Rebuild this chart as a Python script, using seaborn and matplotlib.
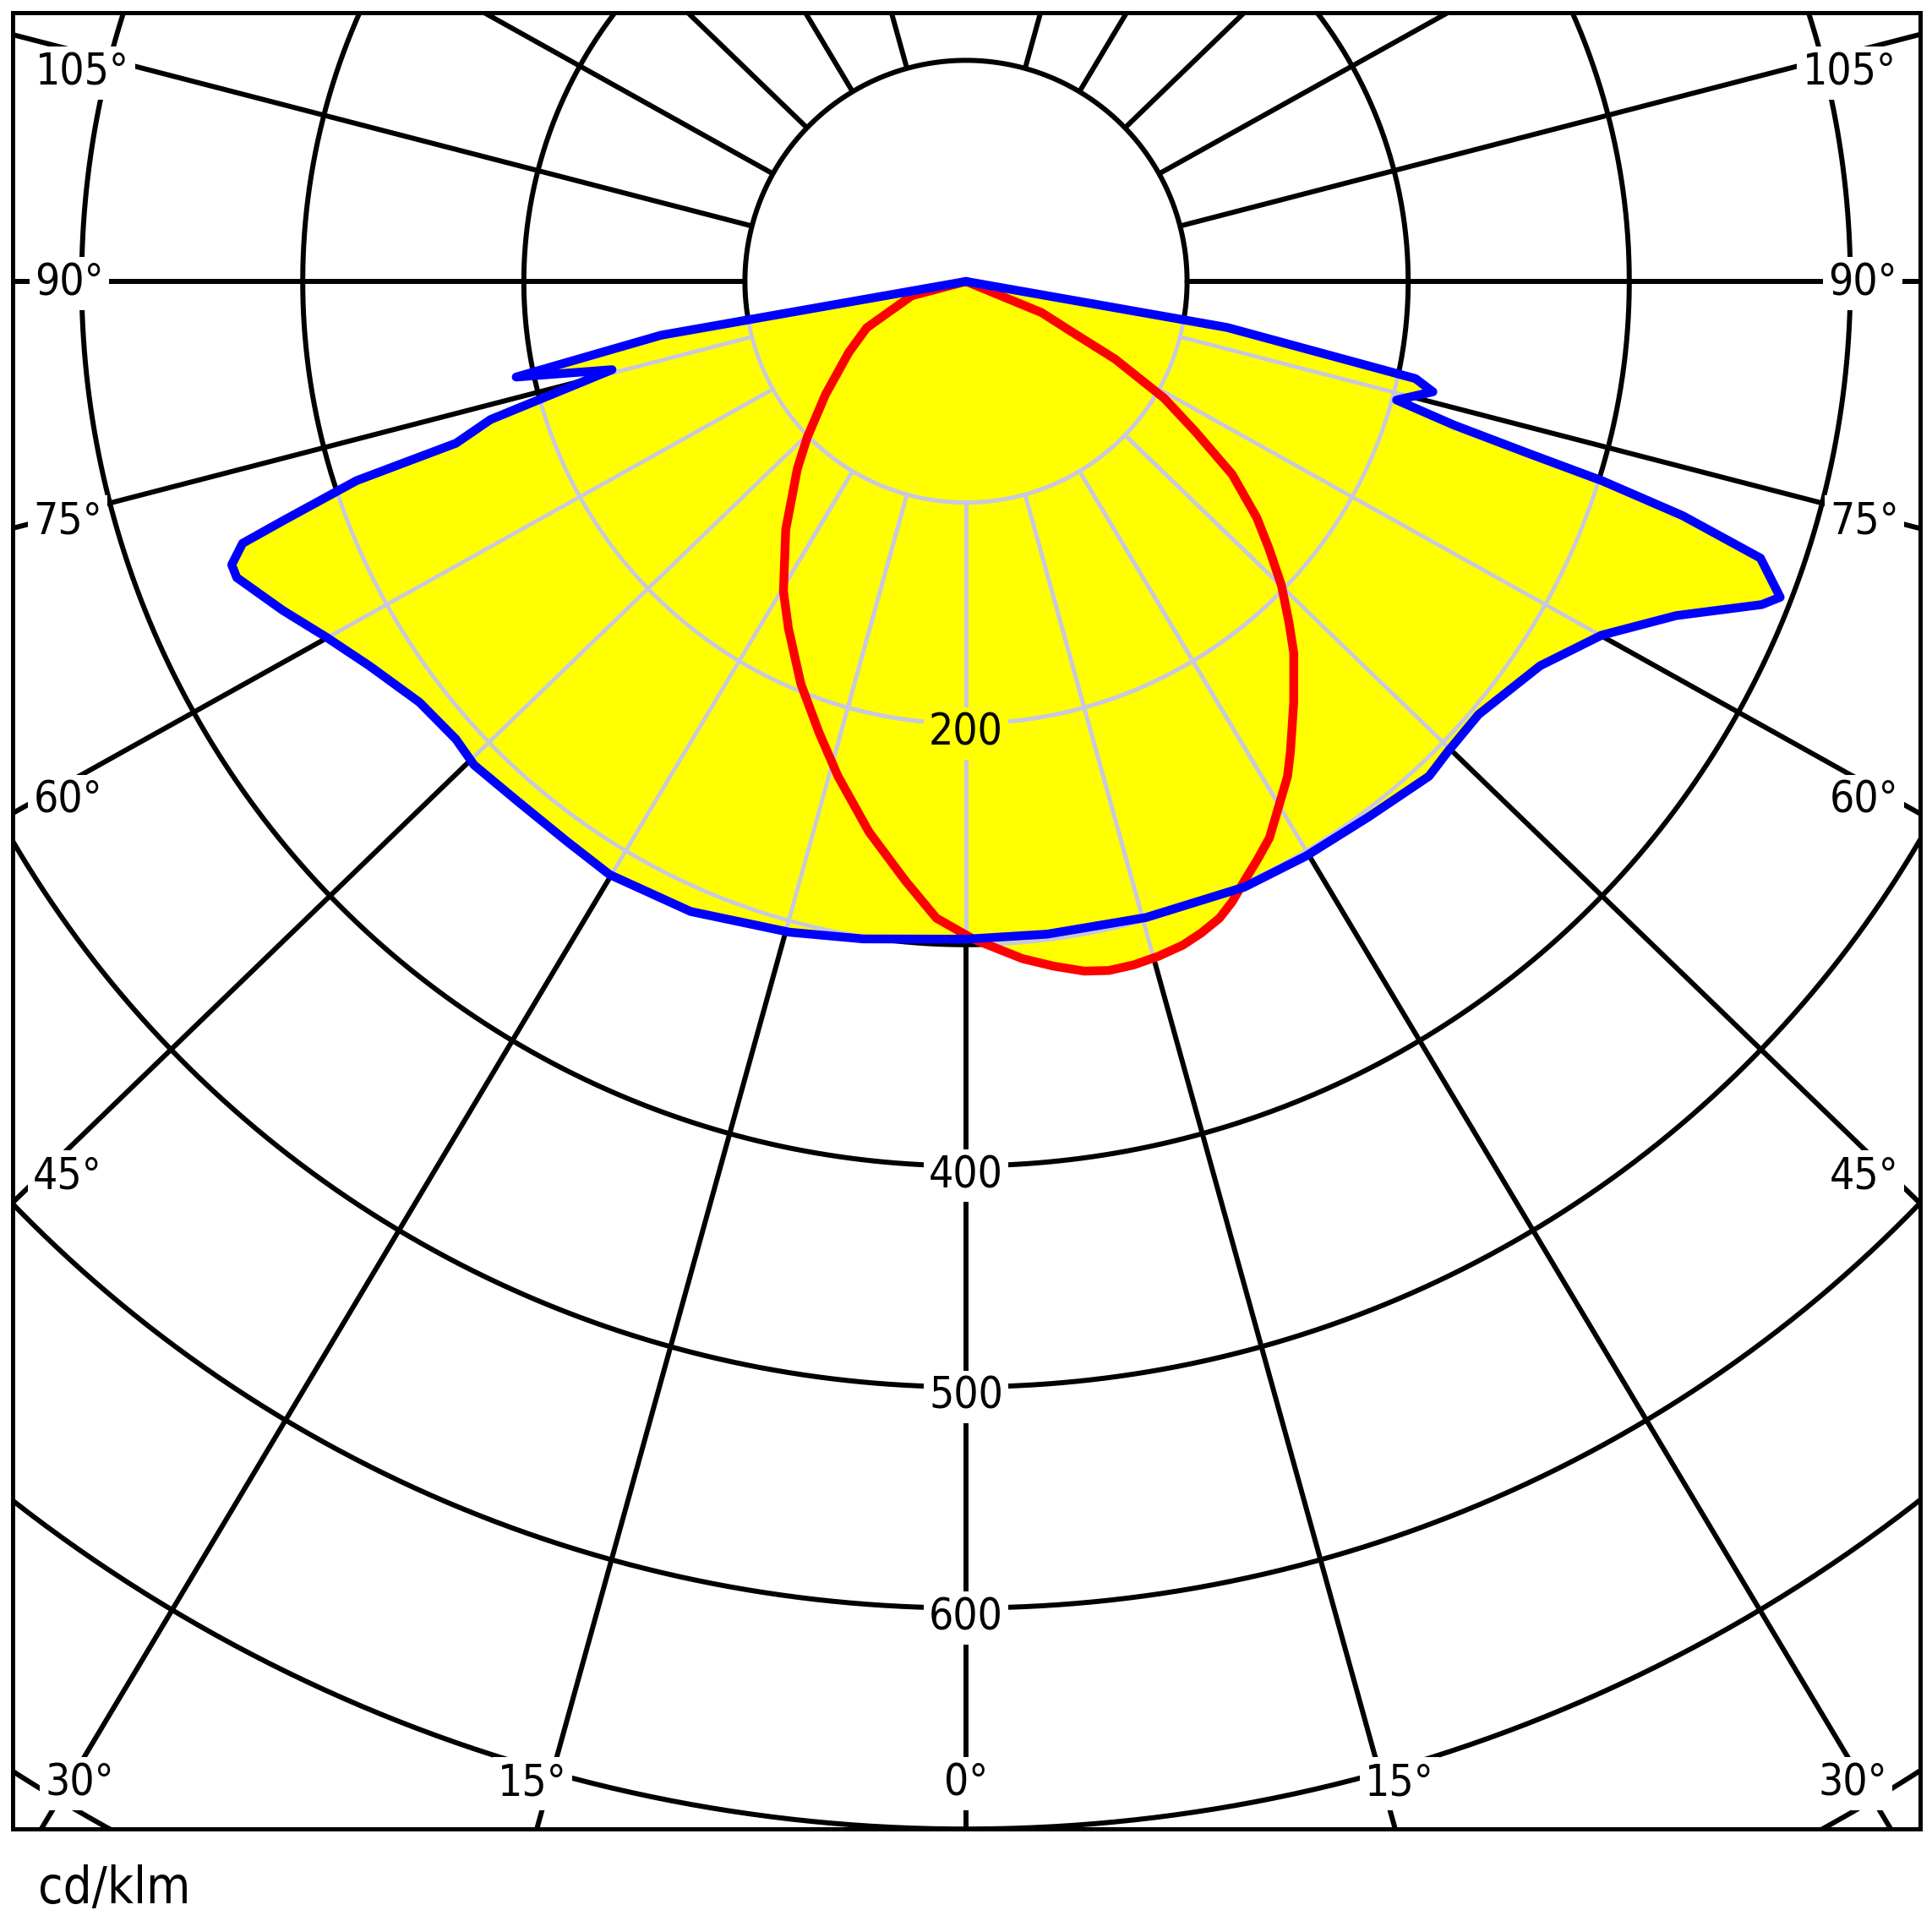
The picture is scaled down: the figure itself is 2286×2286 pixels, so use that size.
import numpy as np
import pandas as pd
import matplotlib
matplotlib.use("Agg")
import matplotlib.pyplot as plt
import seaborn as sns
from matplotlib.path import Path

# ---------------- data (gamma in degrees, 0 = nadir, negative = left half) ----------------
blue_gamma = [-90, -80, -78, -76, -73.8, -72.4, -71.9, -70.7, -70.1, -68.9, -67.9, -64.3,
              -60.9, -57.2, -52.4, -48.1, -45.5, -40.8, -35.5, -31.0, -23.6, -15.2, -8.9, 0,
              7.1, 15.8, 24.7, 30.6, 36.9, 43.1, 45.7, 49.8, 56.2, 60.9, 64.8, 67.9, 68.8,
              70.8, 71.9, 72.6, 73.0, 73.6, 74.6, 76.7, 77.8, 80, 90]
blue_cd = [0, 140, 208, 165, 224, 242, 290, 327, 348, 356, 356, 343,
           331, 321, 312, 310, 312, 310.5, 311, 313, 311, 305, 301, 297.5,
           297.5, 299, 301.5, 302, 303, 306.5, 304.5, 303.5, 312.5, 329, 355, 388.5, 395,
           380.5, 341, 301.5, 266, 230, 202, 217, 208, 120, 0]

red_gamma = [-90, -75.2, -65, -58.8, -51.2, -45.5, -42, -36, -30.5, -27.1, -22.3,
             -18.0, -14.5, -10.0, -5.75, -2.66, 0.64, 4.78, 7.28, 9.73, 11.72, 13.78, 15.9,
             18.1, 19.86, 21.7, 23.2, 24.9, 26.7, 28.6, 33.0, 34.6, 37.9, 41.4, 43.45, 46.07,
             48.6, 50.9, 54.06, 56.8, 59.5, 62.5, 64.5, 67.6, 90]
red_cd = [0, 25.4, 49.5, 62, 81.5, 100.7, 114, 138.7, 162.7, 176.3, 196.8,
          214.8, 231.2, 252.8, 272.6, 288.3, 297.5, 307.4, 312.2, 316.5, 318.3, 318.3, 317.4,
          315.8, 313.3, 310, 305.4, 299, 293, 286.7, 267, 258.4, 241.3, 224.2, 212.4, 198.1,
          182.7, 169.5, 148.7, 123.9, 104, 76, 53, 37, 0]

ring_values = [100, 200, 300, 400, 500, 600, 700, 800]
ring_label_values = [200, 400, 500, 600]
spoke_angles = list(range(-165, 166, 15))
angle_label_values = [105, 90, 75, 60, 45, 30, 15, 0]
unit_label = "cd/klm"

# ---------------- layout ----------------
W = 2286
PX = 2.616                     # pixels per cd/klm
CX, CY = 1143, 333             # pole position (pixels)
FL, FT, FR, FB = 15, 15, 2272, 2164   # frame
SPOKE_K = 1.035                # horizontal spread of the spokes in the original drawing
label_pos = {105: (-399.5, 95.2), 90: (-405.6, 0.0), 75: (-406.3, -107.8),
             60: (-406.3, -234.0), 45: (-406.3, -404.0), 30: (-401.0, -678.5),
             15: (-196.1, -678.5), 0: (0.0, -678.5)}
FS = 37
BLACK_LW = 4.3
GRAY = "#c8c8de"
GRAY_LW = 3.4
CURVE_LW = 7.5

sns.set_theme(style="white")
plt.rcParams["font.family"] = ["DejaVu Sans"]
plt.rcParams["font.stretch"] = "condensed"
plt.rcParams["text.color"] = "black"

fig = plt.figure(figsize=(22.86, 22.86), dpi=100)
fig.patch.set_facecolor("white")
ax = fig.add_axes([FL / W, 1 - FB / W, (FR - FL) / W, (FB - FT) / W])
ax.set_xlim((FL - CX) / PX, (FR - CX) / PX)
ax.set_ylim((CY - FB) / PX, (CY - FT) / PX)
ax.set_xticks([])
ax.set_yticks([])
ax.set_facecolor("white")


def polar_xy(g, r):
    g = np.radians(np.asarray(g, float))
    r = np.asarray(r, float)
    return r * np.sin(g), -r * np.cos(g)


def draw_grid(color, lw, z, clip=None):
    th = np.linspace(0, 2 * np.pi, 1441)
    arts = []
    for rv in ring_values:
        arts += ax.plot(rv * np.cos(th), rv * np.sin(th), color=color, lw=lw, zorder=z)
    for a in spoke_angles:
        g = np.radians(a)
        d = np.array([SPOKE_K * np.sin(g), -np.cos(g)])
        d /= np.hypot(*d)
        p0, p1 = d * 100, d * 1000
        arts += ax.plot([p0[0], p1[0]], [p0[1], p1[1]], color=color, lw=lw, zorder=z,
                        solid_capstyle="butt")
    if clip is not None:
        for art in arts:
            art.set_clip_path(clip)


# black grid
draw_grid("black", BLACK_LW, 1)

# yellow fill (union of both planes)
bx, by = polar_xy(blue_gamma, blue_cd)
rx, ry = polar_xy(red_gamma, red_cd)
patch_b = ax.fill(bx, by, color="#ffff00", lw=0, zorder=2)[0]
patch_r = ax.fill(rx, ry, color="#ffff00", lw=0, zorder=2)[0]

# light grid over the fill
draw_grid(GRAY, GRAY_LW, 3, clip=patch_b)
draw_grid(GRAY, GRAY_LW, 3, clip=patch_r)

# curves
red_df = pd.DataFrame({"x": rx, "y": ry})
blue_df = pd.DataFrame({"x": bx, "y": by})
sns.lineplot(data=red_df, x="x", y="y", sort=False, estimator=None, color="#ff0000",
             lw=CURVE_LW, ax=ax, legend=False, zorder=4, solid_joinstyle="round")
sns.lineplot(data=blue_df, x="x", y="y", sort=False, estimator=None, color="#0000ff",
             lw=CURVE_LW, ax=ax, legend=False, zorder=5, solid_joinstyle="round")
ax.set_xlabel("")
ax.set_ylabel("")

# ring labels
path_b = Path(np.column_stack([bx, by]))
path_r = Path(np.column_stack([rx, ry]))
for v in ring_label_values:
    inside = path_b.contains_point((0, -v)) or path_r.contains_point((0, -v))
    fc = "#ffff00" if inside else "white"
    ax.text(0, -v - 4.5, str(v), ha="center", va="center", fontsize=FS, color="black",
            zorder=7, bbox=dict(boxstyle="square,pad=0.12", fc=fc, ec="none"))

# angle labels
for a in angle_label_values:
    x, y = label_pos[a]
    xs = [x] if a == 0 else [x, -x]
    for xx in xs:
        ax.text(xx, y - 1, f"{a}°", ha="center", va="center", fontsize=FS, color="black",
                zorder=7, bbox=dict(boxstyle="square,pad=0.12", fc="white", ec="none"))

for s in ax.spines.values():
    s.set_visible(True)
    s.set_color("black")
    s.set_linewidth(3.6)
    s.set_zorder(10)

fig.text(45 / W, 1 - 2252 / W, unit_label, fontsize=43, color="black", ha="left", va="baseline")

fig.savefig("out.png", dpi=100, facecolor="white")
